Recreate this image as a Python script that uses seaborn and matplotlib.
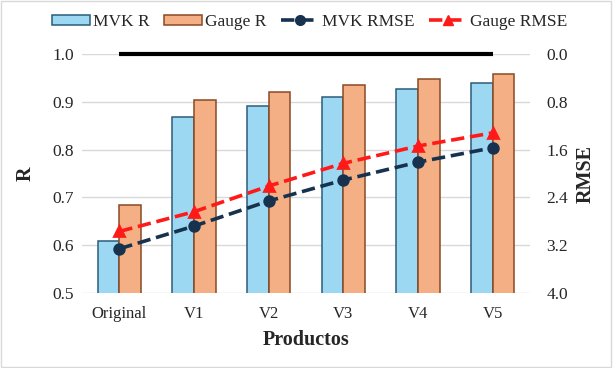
import matplotlib
matplotlib.use("Agg")
import matplotlib.pyplot as plt
import seaborn as sns
import pandas as pd
from matplotlib.patches import Patch, Rectangle
from matplotlib.lines import Line2D

categories = ["Original", "V1", "V2", "V3", "V4", "V5"]
mvk_r = [0.609, 0.869, 0.891, 0.911, 0.927, 0.939]
gauge_r = [0.684, 0.904, 0.921, 0.935, 0.948, 0.958]
mvk_rmse = [3.26, 2.88, 2.46, 2.11, 1.81, 1.57]
gauge_rmse = [2.97, 2.64, 2.21, 1.83, 1.54, 1.32]
perfect_r = [1.0, 1.0, 1.0, 1.0, 1.0, 1.0]
left_ticks = [0.5, 0.6, 0.7, 0.8, 0.9, 1.0]
right_ticks = [0.0, 0.8, 1.6, 2.4, 3.2, 4.0]

sns.set_theme(style="white")
plt.rcParams["font.family"] = ["Liberation Serif", "DejaVu Serif"]
plt.rcParams["font.size"] = 12

df = pd.DataFrame({
    "Productos": categories * 2,
    "R": mvk_r + gauge_r,
    "Serie": ["MVK R"] * 6 + ["Gauge R"] * 6,
})

fig = plt.figure(figsize=(6.13, 3.68), dpi=100)
ax = fig.add_axes([82 / 613, 1 - 293 / 368, 448 / 613, 239 / 368])

blue_fill, blue_edge = "#9dd8f2", "#2b5d7c"
orng_fill, orng_edge = "#f4b084", "#8a4a25"

sns.barplot(data=df, x="Productos", y="R", hue="Serie", order=categories,
            hue_order=["MVK R", "Gauge R"],
            palette={"MVK R": blue_fill, "Gauge R": orng_fill},
            width=0.58, gap=0, ax=ax, legend=False, saturation=1)
for cont, ec in zip(ax.containers, [blue_edge, orng_edge]):
    for p in cont:
        p.set_edgecolor(ec)
        p.set_linewidth(1.1)
        p.set_zorder(2)

ax.set_ylim(0.5, 1.0)
ax.set_xlim(-0.5, 5.5)
ax.set_yticks(left_ticks)
ax.set_yticklabels([f"{v:.1f}" for v in left_ticks])
ax.yaxis.grid(True, color="#d9d9d9", linewidth=1)
ax.set_axisbelow(True)
for s in ax.spines.values():
    s.set_visible(False)
ax.tick_params(axis="y", length=0, labelsize=12.5, pad=6)
ax.tick_params(axis="x", length=0, labelsize=12, pad=9)
ax.set_xlabel("Productos", fontsize=14.5, fontweight="bold", labelpad=6)
ax.set_ylabel("R", fontsize=14.5, fontweight="bold", labelpad=12)

ax.plot(range(len(categories)), perfect_r, color="black", linewidth=3,
        zorder=5, clip_on=False, solid_capstyle="butt")

ax2 = ax.twinx()
navy, red = "#16324f", "#ff1a1a"
sns.pointplot(x=categories, y=mvk_rmse, color=navy, markers="o",
              linestyles="--", ax=ax2, markersize=7, linewidth=2.6,
              errorbar=None)
sns.pointplot(x=categories, y=gauge_rmse, color=red, markers="^",
              linestyles="--", ax=ax2, markersize=7, linewidth=2.6,
              errorbar=None)
ax2.set_xlim(-0.5, 5.5)
ax2.set_ylim(4.0, 0.0)
ax2.set_yticks(right_ticks)
ax2.set_yticklabels([f"{v:.1f}" for v in right_ticks])
for s in ax2.spines.values():
    s.set_visible(False)
ax2.tick_params(axis="y", length=0, labelsize=12.5, pad=12)
ax2.set_ylabel("RMSE", fontsize=14.5, fontweight="bold", labelpad=5)
ax2.grid(False)

handles = [
    Patch(facecolor=blue_fill, edgecolor=blue_edge, linewidth=1.1),
    Patch(facecolor=orng_fill, edgecolor=orng_edge, linewidth=1.1),
    Line2D([], [], color=navy, linestyle="--", linewidth=2.6, marker="o", markersize=7),
    Line2D([], [], color=red, linestyle="--", linewidth=2.6, marker="^", markersize=7),
]
fig.legend(handles, ["MVK R", "Gauge R", "MVK RMSE", "Gauge RMSE"],
           loc="center", bbox_to_anchor=(0.505, 1 - 22 / 368), ncol=4,
           frameon=False, fontsize=12.5, handlelength=2.2, handleheight=0.5,
           handletextpad=0.15, columnspacing=0.85)

fig.patches.append(Rectangle((0.002, 0.003), 0.995, 0.994, transform=fig.transFigure,
                             fill=False, edgecolor="#d9d9d9", linewidth=1))

fig.savefig("out.png", dpi=100)
